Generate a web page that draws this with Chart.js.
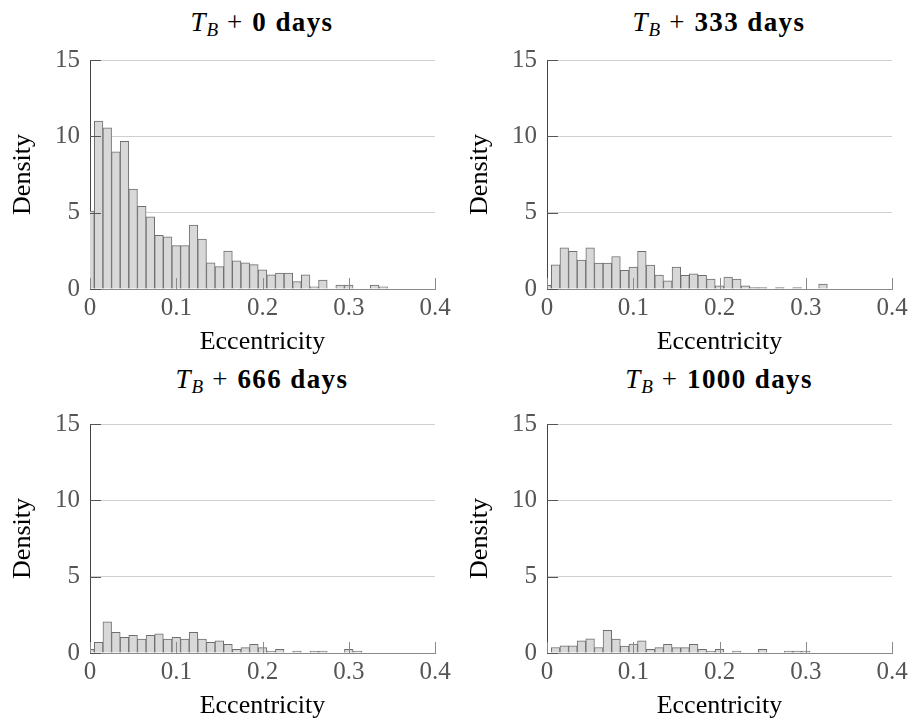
<!DOCTYPE html>
<html>
<head>
<meta charset="utf-8">
<script src="https://cdn.jsdelivr.net/npm/chart.js@4.4.0/dist/chart.umd.min.js"></script>
<style>
  body { margin:0; background:#fff; width:912px; height:722px; position:relative; overflow:hidden; font-family:"Liberation Serif", serif; }
  .panel { position:absolute; width:456px; height:361px; }
  .ttl { position:absolute; font-size:27px; line-height:28px; white-space:nowrap; transform:translateX(-50%); color:#000; }
  .ttl .sb { font-size:19px; position:relative; top:5px; font-style:italic; margin-left:1px; }
  .ttl .op { margin:0 10px 0 9px; }
  .ttl b { letter-spacing:1.4px; }
</style>
</head>
<body>
<div class="ttl" style="left:262px;top:8px"><i>T</i><span class="sb">B</span><span class="op">+</span><b>0 days</b></div>
<div class="ttl" style="left:719px;top:8px"><i>T</i><span class="sb">B</span><span class="op">+</span><b>333 days</b></div>
<div class="ttl" style="left:262px;top:365px"><i>T</i><span class="sb">B</span><span class="op">+</span><b>666 days</b></div>
<div class="ttl" style="left:719px;top:365px"><i>T</i><span class="sb">B</span><span class="op">+</span><b>1000 days</b></div>

<div class="panel" style="left:0;top:0"><canvas id="c0"></canvas></div>
<div class="panel" style="left:457px;top:0"><canvas id="c1"></canvas></div>
<div class="panel" style="left:0;top:364px"><canvas id="c2"></canvas></div>
<div class="panel" style="left:457px;top:364px"><canvas id="c3"></canvas></div>

<script>
// bin centres (eccentricity), bin width 0.01
var binCenters = [0, 0.01, 0.02, 0.03, 0.04, 0.05, 0.06, 0.07, 0.08, 0.09,
  0.10, 0.11, 0.12, 0.13, 0.14, 0.15, 0.16, 0.17, 0.18, 0.19,
  0.20, 0.21, 0.22, 0.23, 0.24, 0.25, 0.26, 0.27, 0.28, 0.29,
  0.30, 0.31, 0.32, 0.33, 0.34];

// density per bin
var day0 = [5.1, 11.0, 10.56, 8.98, 9.68, 6.54, 5.41, 4.72, 3.51, 3.42,
  2.84, 2.84, 4.18, 3.27, 1.71, 1.47, 2.49, 1.84, 1.71, 1.60,
  1.26, 0.93, 1.04, 1.04, 0.48, 0.93, 0.15, 0.58, 0, 0.26,
  0.26, 0, 0, 0.26, 0.15];
var day333 = [0.24, 1.59, 2.70, 2.46, 1.89, 2.70, 1.70, 1.70, 2.13, 1.22,
  1.43, 2.46, 1.57, 0.91, 0.54, 1.43, 0.89, 1.00, 0.89, 0.65,
  0.20, 0.78, 0.65, 0.20, 0.10, 0.10, 0, 0.10, 0, 0.10,
  0, 0, 0.33, 0, 0];
var day666 = [0.24, 0.70, 2.04, 1.35, 1.02, 1.15, 0.91, 1.15, 1.26, 0.91,
  1.02, 0.91, 1.35, 0.91, 0.70, 0.80, 0.57, 0.24, 0.35, 0.57,
  0.35, 0.13, 0.24, 0, 0.13, 0, 0.13, 0.13, 0, 0,
  0.24, 0.13, 0, 0, 0];
var day1000 = [0, 0.36, 0.47, 0.47, 0.80, 0.93, 0.36, 1.49, 0.91, 0.46,
  0.59, 0.80, 0.24, 0.35, 0.57, 0.35, 0.35, 0.57, 0.24, 0.13,
  0.24, 0, 0.13, 0, 0, 0.24, 0, 0, 0.13, 0.13,
  0.13, 0, 0, 0, 0];

var xTicks = [0, 0.1, 0.2, 0.3, 0.4];
var yTicks = [0, 5, 10, 15];

var serif = '"Liberation Serif", serif';

// short tick marks pointing into the plot
var innerTicks = {
  id: 'innerTicks',
  afterDatasetsDraw: function(chart) {
    var ctx = chart.ctx, a = chart.chartArea, x = chart.scales.x, y = chart.scales.y;
    ctx.save();
    ctx.lineWidth = 1;
    ctx.strokeStyle = '#8a8a8a';
    x.ticks.forEach(function(t){
      var px = Math.round(x.getPixelForValue(t.value)) + 0.5;
      ctx.beginPath(); ctx.moveTo(px, a.bottom); ctx.lineTo(px, a.bottom - 11); ctx.stroke();
    });
    ctx.strokeStyle = '#555';
    y.ticks.forEach(function(t){
      var py = Math.round(y.getPixelForValue(t.value)) + 0.5;
      ctx.beginPath(); ctx.moveTo(a.left, py); ctx.lineTo(a.left + 11, py); ctx.stroke();
    });
    ctx.restore();
  }
};

function makePanel(id, values) {
  var pts = binCenters.map(function(c, i){ return {x: c, y: values[i]}; });
  new Chart(document.getElementById(id), {
    type: 'bar',
    data: {
      datasets: [{
        data: pts,
        backgroundColor: '#d8d8d8',
        borderColor: '#6e6e6e',
        borderWidth: 1,
        barPercentage: 1,
        categoryPercentage: 1,
        clip: 0
      }]
    },
    options: {
      responsive: true,
      maintainAspectRatio: false,
      animation: false,
      layout: { padding: { top: 60, right: 21, left: 0, bottom: 0 } },
      plugins: { legend: { display: false }, tooltip: { enabled: false } },
      scales: {
        x: {
          type: 'linear',
          min: 0, max: 0.4,
          offset: false,
          afterBuildTicks: function(s){ s.ticks = xTicks.map(function(v){ return {value: v}; }); },
          afterFit: function(s){ s.height = 72; },
          grid: { display: false, offset: false, drawTicks: false },
          border: { display: true, color: '#8a8a8a', width: 1 },
          ticks: {
            color: '#555', padding: 4,
            font: { family: serif, size: 25 },
            callback: function(v){ return v === 0 ? '0' : v.toFixed(1); }
          },
          title: { display: true, text: 'Eccentricity', color: '#000',
                   font: { family: serif, size: 26 }, padding: { top: 0, bottom: 3 } }
        },
        y: {
          min: 0, max: 15,
          afterBuildTicks: function(s){ s.ticks = yTicks.map(function(v){ return {value: v}; }); },
          afterFit: function(s){ s.width = 90; },
          grid: { color: '#cfcfcf', lineWidth: 1, drawTicks: false },
          border: { display: true, color: '#444', width: 1 },
          ticks: { color: '#555', padding: 10, font: { family: serif, size: 25 } },
          title: { display: true, text: 'Density', color: '#000',
                   font: { family: serif, size: 26 }, padding: { top: 8, bottom: 0 } }
        }
      }
    },
    plugins: [innerTicks]
  });
}

makePanel('c0', day0);
makePanel('c1', day333);
makePanel('c2', day666);
makePanel('c3', day1000);
</script>
</body>
</html>
